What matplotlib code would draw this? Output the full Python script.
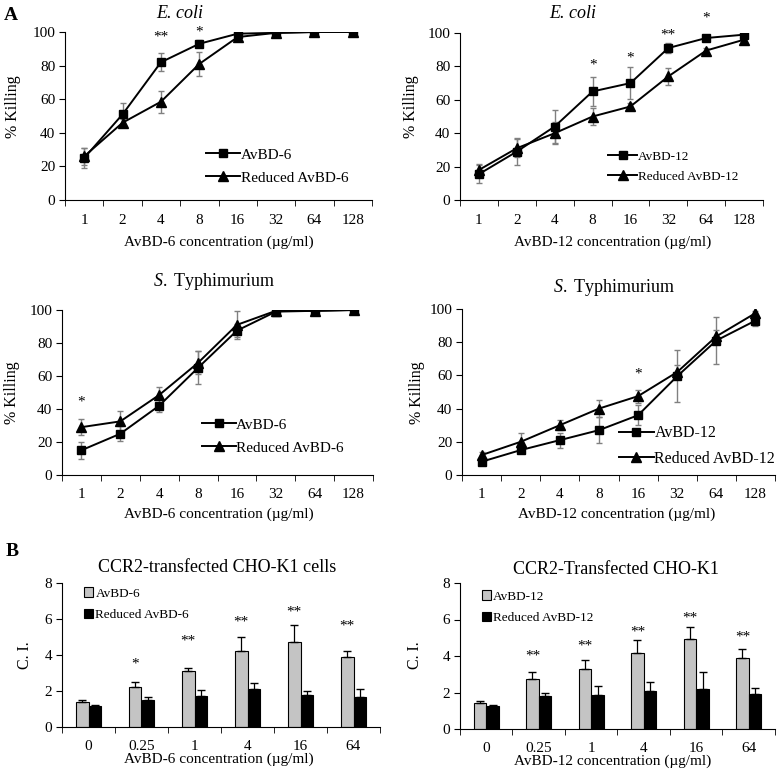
import matplotlib
matplotlib.use("Agg")
import matplotlib.pyplot as plt
import numpy as np

plt.rcParams['font.family'] = ['Liberation Serif', 'DejaVu Serif']
plt.rcParams['mathtext.fontset'] = 'custom'
plt.rcParams['mathtext.rm'] = 'Liberation Serif'
plt.rcParams['mathtext.it'] = 'Liberation Serif:italic'

# ---- data ----
conc_lines = ['1', '2', '4', '8', '16', '32', '64', '128']
conc_bars = ['0', '0.25', '1', '4', '16', '64']

# E. coli, AvBD-6
ec6_native = [25, 51, 82, 93, 99, 99.5, 100, 100]
ec6_native_err = [6, 7, 5.5, 2, 1, 1, 0.5, 0.5]
ec6_reduced = [26, 46, 58.5, 81, 97, 99.5, 100, 100]
ec6_reduced_err = [5, 2, 6.5, 7, 1, 0.5, 0.5, 0.5]
ec6_stars = {2: ('**', 97), 3: ('*', 100)}

# E. coli, AvBD-12
ec12_native = [15.5, 29, 44, 65, 70, 91, 97, 99]
ec12_native_err = [5.5, 8, 10, 8.5, 9.5, 3, 1.5, 1]
ec12_reduced = [18, 31, 40, 50, 56, 74, 89.5, 96]
ec12_reduced_err = [3.5, 5.5, 6.5, 5, 2, 5, 1.5, 1]
ec12_stars = {3: ('*', 81), 4: ('*', 85), 5: ('**', 99), 6: ('*', 109)}

# S. Typhimurium, AvBD-6
st6_native = [15, 25, 42, 65, 87.5, 99, 99.5, 100]
st6_native_err = [5, 4.5, 4, 10, 4, 1, 0.5, 0.5]
st6_reduced = [29, 32.5, 48.5, 68, 91, 99.5, 99.5, 100]
st6_reduced_err = [5, 6, 5, 7, 8.5, 0.5, 0.5, 0.5]
st6_stars = {0: ('*', 44.5)}

# S. Typhimurium, AvBD-12
st12_native = [8, 15, 21, 27, 36, 59.5, 81, 93]
st12_native_err = [2, 2, 4.5, 8, 6, 15.5, 14, 3]
st12_reduced = [12, 20, 30, 40, 47.5, 62, 83.5, 97.5]
st12_reduced_err = [2, 5.5, 3, 5, 4, 4, 4, 1]
st12_stars = {4: ('*', 61)}

# chemotaxis, AvBD-6
ci6_native = [1.4, 2.2, 3.1, 4.2, 4.7, 3.9]
ci6_native_err = [0.1, 0.3, 0.2, 0.8, 0.95, 0.3]
ci6_reduced = [1.15, 1.5, 1.7, 2.1, 1.8, 1.65]
ci6_reduced_err = [0.1, 0.15, 0.35, 0.35, 0.2, 0.45]
ci6_stars = {1: ('*', 3.5), 2: ('**', 4.8), 3: ('**', 5.85), 4: ('**', 6.4), 5: ('**', 5.6)}

# chemotaxis, AvBD-12
ci12_native = [1.4, 2.75, 3.3, 4.15, 4.95, 3.9]
ci12_native_err = [0.15, 0.4, 0.5, 0.7, 0.65, 0.5]
ci12_reduced = [1.25, 1.8, 1.85, 2.1, 2.2, 1.9]
ci12_reduced_err = [0.08, 0.2, 0.5, 0.5, 0.9, 0.35]
ci12_stars = {1: ('**', 4.0), 2: ('**', 4.55), 3: ('**', 5.33), 4: ('**', 6.1), 5: ('**', 5.06)}

W, H = 778, 779
fig = plt.figure(figsize=(W / 100, H / 100), dpi=100)


def px_axes(left, top, right, bottom):
    return fig.add_axes([left / W, 1 - bottom / H, (right - left) / W, (bottom - top) / H])


def ftext(x, y, s, **kw):
    fig.text(x / W, 1 - y / H, s, ha='center', va='center', **kw)


def style_axes(ax, ncat, ymax, ystep, xpad):
    for side in ('top', 'right'):
        ax.spines[side].set_visible(False)
    ax.set_xlim(0.5, ncat + 0.5)
    ax.set_ylim(0, ymax)
    ax.set_yticks(np.arange(0, ymax + 0.001, ystep))
    ax.set_xticks(np.arange(1, ncat + 1))
    ax.set_xticks(np.arange(0.5, ncat + 1), minor=True)
    ax.tick_params(axis='x', which='major', length=0, labelsize=11, pad=xpad)
    ax.tick_params(axis='x', which='minor', length=4, direction='out')
    ax.tick_params(axis='y', length=4, direction='out', labelsize=11, pad=3)


def line_panel(ax, native, native_err, reduced, reduced_err, stars, lab_n, lab_r,
               leg_xy, leg_size, xpad=10):
    x = np.arange(1, len(conc_lines) + 1)
    ax.errorbar(x, reduced, yerr=reduced_err, fmt='none', ecolor='#808080',
                elinewidth=1, capsize=2.5, zorder=1)
    ax.errorbar(x, native, yerr=native_err, fmt='none', ecolor='#808080',
                elinewidth=1, capsize=2.5, zorder=1)
    ax.plot(x, reduced, color='black', lw=1.4, marker='^', ms=6.5, label=lab_r, zorder=2)
    ax.plot(x, native, color='black', lw=1.4, marker='s', ms=6, label=lab_n, zorder=3)
    for i, (s, y) in stars.items():
        ax.text(x[i], y, s, ha='center', va='center', fontsize=11)
    style_axes(ax, len(conc_lines), 100, 20, xpad)
    ax.set_xticklabels(conc_lines)
    h, l = ax.get_legend_handles_labels()
    ax.legend(h[::-1], l[::-1], loc='center left', bbox_to_anchor=leg_xy, frameon=False,
              fontsize=leg_size, handlelength=2.2, handletextpad=0.05, labelspacing=0.6,
              borderaxespad=0, borderpad=0)


def bar_panel(ax, native, native_err, reduced, reduced_err, stars, lab_n, lab_r, leg_xy):
    x = np.arange(1, len(conc_bars) + 1)
    w = 0.24
    ax.bar(x - w / 2, native, w, yerr=[np.zeros(len(native)), native_err],
           color='#c4c4c4', edgecolor='black', linewidth=0.8, label=lab_n,
           error_kw=dict(ecolor='black', elinewidth=0.9, capsize=3))
    ax.bar(x + w / 2, reduced, w, yerr=[np.zeros(len(reduced)), reduced_err],
           color='black', edgecolor='black', linewidth=0.8, label=lab_r,
           error_kw=dict(ecolor='black', elinewidth=0.9, capsize=3))
    for i, (s, y) in stars.items():
        ax.text(x[i] - w / 2, y, s, ha='center', va='center', fontsize=11)
    style_axes(ax, len(conc_bars), 8, 2, 9)
    ax.set_xticklabels(conc_bars)
    ax.legend(loc='upper left', bbox_to_anchor=leg_xy, frameon=False, fontsize=9.5,
              handlelength=0.7, handleheight=0.7, handletextpad=0.15, labelspacing=0.7,
              borderaxespad=0, borderpad=0)


ax1 = px_axes(65, 32, 372, 200)
line_panel(ax1, ec6_native, ec6_native_err, ec6_reduced, ec6_reduced_err, ec6_stars,
           'AvBD-6', 'Reduced AvBD-6', (0.46, 0.20), 11)
ax2 = px_axes(460, 33, 763, 200)
line_panel(ax2, ec12_native, ec12_native_err, ec12_reduced, ec12_reduced_err, ec12_stars,
           'AvBD-12', 'Reduced AvBD-12', (0.49, 0.20), 9.5)
ax3 = px_axes(62, 310, 373, 475)
line_panel(ax3, st6_native, st6_native_err, st6_reduced, st6_reduced_err, st6_stars,
           'AvBD-6', 'Reduced AvBD-6', (0.45, 0.235), 11, xpad=9)
ax4 = px_axes(462, 309, 775, 475)
line_panel(ax4, st12_native, st12_native_err, st12_reduced, st12_reduced_err, st12_stars,
           'AvBD-12', 'Reduced AvBD-12', (0.50, 0.175), 11.5, xpad=9)
ax5 = px_axes(62, 583, 380, 727)
bar_panel(ax5, ci6_native, ci6_native_err, ci6_reduced, ci6_reduced_err, ci6_stars,
          'AvBD-6', 'Reduced AvBD-6', (0.07, 0.97))
ax6 = px_axes(460, 583, 775, 729)
bar_panel(ax6, ci12_native, ci12_native_err, ci12_reduced, ci12_reduced_err, ci12_stars,
          'AvBD-12', 'Reduced AvBD-12', (0.07, 0.95))

# titles
ftext(180, 13, 'E. coli', fontsize=13, style='italic')
ftext(573, 13, 'E. coli', fontsize=13, style='italic')
ftext(214, 282, '$\\it{S.}$ Typhimurium', fontsize=13)
ftext(614, 287, '$\\it{S.}$ Typhimurium', fontsize=13)
ftext(217, 567, 'CCR2-transfected CHO-K1 cells', fontsize=13)
ftext(616, 570, 'CCR2-Transfected CHO-K1', fontsize=13)

# x labels
ftext(219, 242, 'AvBD-6 concentration (µg/ml)', fontsize=11)
ftext(613, 242, 'AvBD-12 concentration (µg/ml)', fontsize=11)
ftext(219, 514, 'AvBD-6 concentration (µg/ml)', fontsize=11)
ftext(617, 514, 'AvBD-12 concentration (µg/ml)', fontsize=11)
ftext(219, 759, 'AvBD-6 concentration (µg/ml)', fontsize=11)
ftext(613, 761, 'AvBD-12 concentration (µg/ml)', fontsize=11)

# y labels
ftext(13, 107, '% Killing', fontsize=11.5, rotation=90)
ftext(411, 107, '% Killing', fontsize=11.5, rotation=90)
ftext(12, 393, '% Killing', fontsize=11.5, rotation=90)
ftext(417, 393, '% Killing', fontsize=11.5, rotation=90)
ftext(25, 655, 'C. I.', fontsize=11.5, rotation=90)
ftext(415, 655, 'C. I.', fontsize=11.5, rotation=90)

# panel letters
ftext(11, 15, 'A', fontsize=14, weight='bold')
ftext(12, 552, 'B', fontsize=14, weight='bold')

fig.savefig('out.png', dpi=100)
